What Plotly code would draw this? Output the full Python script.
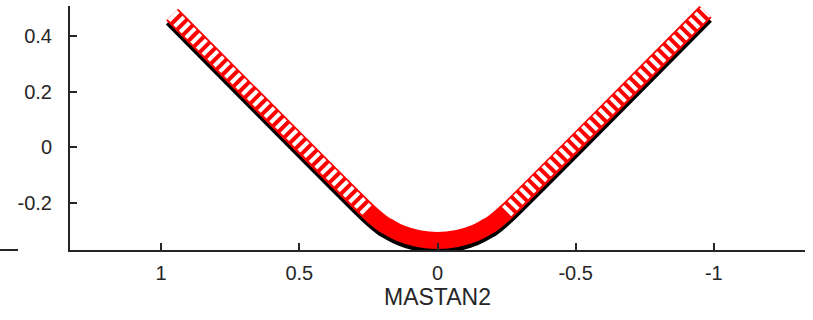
import plotly.graph_objects as go

# Red (deformed) centerline points
red_x = [0.96, 0.25, 0.197, 0.135, 0.069, 0.0, -0.069, -0.135, -0.197, -0.25, -0.97]
red_y = [0.477, -0.231, -0.275, -0.308, -0.328, -0.335, -0.328, -0.308, -0.275, -0.231, 0.487]
# Black line (slightly lower)
blk_x = [0.96, 0.25, 0.197, 0.135, 0.069, 0.0, -0.069, -0.135, -0.197, -0.25, -0.97]
blk_y = [0.464, -0.244, -0.288, -0.321, -0.341, -0.348, -0.341, -0.321, -0.288, -0.244, 0.474]
# Striped straight legs
legL_x = [0.96, 0.25]
legL_y = [0.477, -0.231]
legR_x = [-0.25, -0.97]
legR_y = [-0.231, 0.487]

x_ticks = [1, 0.5, 0, -0.5, -1]
x_labels = ["1", "0.5", "0", "-0.5", "-1"]
y_ticks = [-0.2, 0, 0.2, 0.4]
y_labels = ["-0.2", "0", "0.2", "0.4"]
x_title = "MASTAN2"

fig = go.Figure()
fig.add_trace(go.Scatter(x=blk_x, y=blk_y, mode="lines",
                         line=dict(color="black", width=18, shape="spline", smoothing=0.5),
                         hoverinfo="skip"))
fig.add_trace(go.Scatter(x=red_x, y=red_y, mode="lines",
                         line=dict(color="#ff0000", width=17, shape="spline", smoothing=0.5),
                         hoverinfo="skip"))
for lx, ly in ((legL_x, legL_y), (legR_x, legR_y)):
    fig.add_trace(go.Scatter(x=lx, y=ly, mode="lines",
                             line=dict(color="white", width=13, dash="4px,4px"),
                             hoverinfo="skip"))

axis_col = "#262626"
fig.update_layout(
    width=813, height=320,
    margin=dict(l=70, r=8, t=6, b=70, autoexpand=False),
    paper_bgcolor="white", plot_bgcolor="white",
    showlegend=False,
    font=dict(family="Liberation Sans, Arial, sans-serif", color=axis_col),
    xaxis=dict(range=[1.33, -1.33], tickvals=x_ticks, ticktext=x_labels, automargin=False,
               showgrid=False, zeroline=False, showline=True, linecolor=axis_col,
               linewidth=2, ticks="inside", ticklen=7, tickwidth=2, tickcolor=axis_col,
               tickfont=dict(size=20, color=axis_col), ticklabelstandoff=4,
               title=dict(text=x_title, font=dict(size=23, color=axis_col), standoff=6)),
    yaxis=dict(range=[-0.369, 0.508], tickvals=y_ticks, ticktext=y_labels, automargin=False,
               showgrid=False, zeroline=False, showline=True, linecolor=axis_col,
               linewidth=2, ticks="inside", ticklen=7, tickwidth=2, tickcolor=axis_col,
               tickfont=dict(size=20, color=axis_col), ticklabelstandoff=12),
    shapes=[dict(type="line", xref="paper", yref="paper", x0=-0.0952, x1=-0.0707,
                 y0=0, y1=0, line=dict(color=axis_col, width=2))],
)
fig.write_html("out.html", config={"displayModeBar": False},
               post_script="document.body.style.margin='0px';document.body.style.padding='0px';")
